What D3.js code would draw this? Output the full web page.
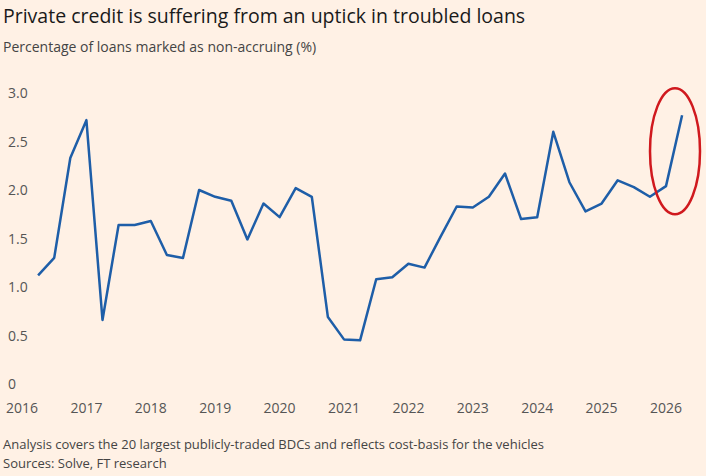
<!DOCTYPE html>
<html><head><meta charset="utf-8">
<script src="https://cdn.jsdelivr.net/npm/d3@7"></script>
<style>body{margin:0;background:#FFF1E5;}svg{display:block;font-family:"Open Sans",sans-serif;}</style>
</head><body><svg id="c" width="706" height="476"></svg>
<script>
const startYear = 2016.25;
const values = [1.12,1.30,2.33,2.72,0.66,1.64,1.64,1.68,1.33,1.30,2.00,1.93,1.89,1.49,1.86,1.72,2.02,1.93,0.69,0.46,0.45,1.08,1.10,1.24,1.20,1.52,1.83,1.82,1.93,2.17,1.70,1.72,2.60,2.08,1.78,1.86,2.10,2.03,1.93,2.04,2.77];
const yTicks = [0,0.5,1.0,1.5,2.0,2.5,3.0];
const xTicks = [2016,2017,2018,2019,2020,2021,2022,2023,2024,2025,2026];
const data = values.map((v,i)=>({t:startYear+i*0.25,v}));
const svg = d3.select("#c");
const x = d3.scaleLinear().domain([2016,2026]).range([22,666]);
const y = d3.scaleLinear().domain([0,3]).range([384,93]);
svg.append("text").attr("x",3).attr("y",23).attr("font-size",19.5).attr("fill","#1a1a1a").text("Private credit is suffering from an uptick in troubled loans");
svg.append("text").attr("x",3).attr("y",52).attr("font-size",14).attr("fill","#444").text("Percentage of loans marked as non-accruing (%)");
svg.selectAll(".yt").data(yTicks).join("text").attr("x",8).attr("y",d=>y(d)+5).attr("font-size",14).attr("fill","#555").text(d=>d===0?"0":d.toFixed(1));
svg.selectAll(".xt").data(xTicks).join("text").attr("x",d=>x(d)).attr("y",413).attr("text-anchor","middle").attr("font-size",14).attr("fill","#555").text(d=>d);
svg.append("path").datum(data).attr("fill","none").attr("stroke","#1e5ea8").attr("stroke-width",2.5).attr("stroke-linejoin","round")
  .attr("d",d3.line().x(d=>x(d.t)).y(d=>y(d.v)));
svg.append("ellipse").attr("cx",675).attr("cy",y(2.4)).attr("rx",25).attr("ry",63).attr("fill","none").attr("stroke","#d0191e").attr("stroke-width",2.5);
svg.append("text").attr("x",3).attr("y",449).attr("font-size",13).attr("fill","#444").text("Analysis covers the 20 largest publicly-traded BDCs and reflects cost-basis for the vehicles");
svg.append("text").attr("x",3).attr("y",468).attr("font-size",13).attr("fill","#444").text("Sources: Solve, FT research");
</script></body></html>
